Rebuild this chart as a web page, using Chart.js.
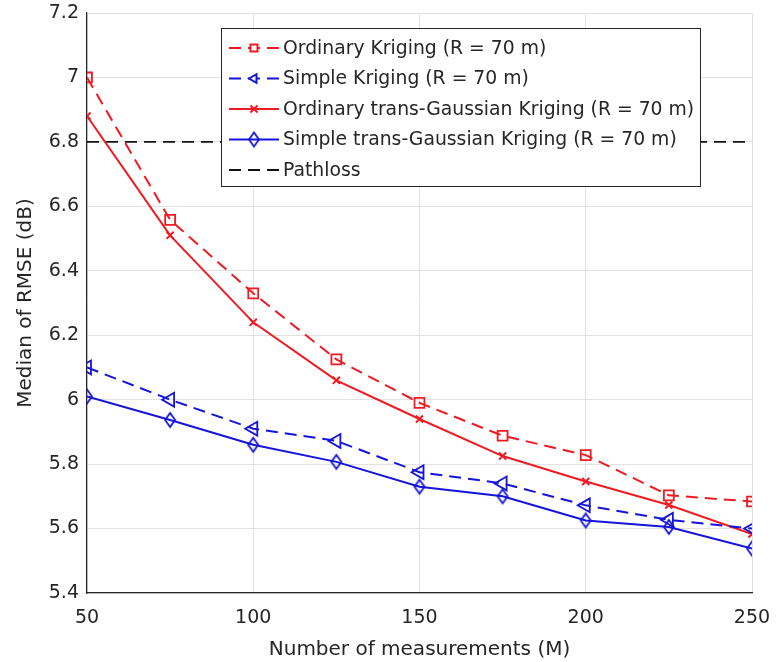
<!DOCTYPE html>
<html>
<head>
<meta charset="utf-8">
<script src="https://cdn.jsdelivr.net/npm/chart.js@4.4.1/dist/chart.umd.min.js"></script>
<style>
  html, body { margin: 0; padding: 0; background: #fff; }
  #wrap { width: 782px; height: 662px; }
</style>
</head>
<body>
<div id="wrap"><canvas id="myChart" width="782" height="662"></canvas></div>
<script>
const measurements = [50, 75, 100, 125, 150, 175, 200, 225, 250];
const ordinaryKriging = [7.00, 6.558, 6.33, 6.125, 5.99, 5.888, 5.828, 5.703, 5.684];
const simpleKriging = [6.10, 6.00, 5.91, 5.872, 5.775, 5.74, 5.672, 5.627, 5.60];
const ordinaryTG = [6.88, 6.51, 6.24, 6.06, 5.94, 5.825, 5.746, 5.673, 5.583];
const simpleTG = [6.01, 5.937, 5.86, 5.807, 5.73, 5.70, 5.625, 5.605, 5.538];
const pathloss = 6.8;
const xTicks = [50, 100, 150, 200, 250];

const RED = "#f01a22";
const BLUE = "#1414dc";
const TXT = "#262626";
const FONT = "'DejaVu Sans', sans-serif";

const toXY = (arr) => measurements.map((m, i) => ({ x: m, y: arr[i] }));

// matlab diamond is taller than wide
function makeDiamond(color) {
  const c = document.createElement("canvas");
  c.width = 14; c.height = 18;
  const g = c.getContext("2d");
  g.strokeStyle = color;
  g.lineWidth = 1.8;
  g.beginPath();
  g.moveTo(7, 2); g.lineTo(12, 9); g.lineTo(7, 16); g.lineTo(2, 9);
  g.closePath();
  g.stroke();
  return c;
}
const diamond = makeDiamond(BLUE);

const datasets = [
  {
    label: "Ordinary Kriging (R = 70 m)",
    data: toXY(ordinaryKriging),
    borderColor: RED, backgroundColor: "rgba(0,0,0,0)",
    borderWidth: 2, borderDash: [12, 7],
    pointStyle: "rect", pointRadius: 7, pointBorderWidth: 1.8,
    pointBorderColor: RED, pointBackgroundColor: "rgba(0,0,0,0)"
  },
  {
    label: "Simple Kriging (R = 70 m)",
    data: toXY(simpleKriging),
    borderColor: BLUE, backgroundColor: "rgba(0,0,0,0)",
    borderWidth: 2, borderDash: [12, 7],
    pointStyle: "triangle", pointRotation: -90, pointRadius: 8, pointBorderWidth: 1.8,
    pointBorderColor: BLUE, pointBackgroundColor: "rgba(0,0,0,0)"
  },
  {
    label: "Ordinary trans-Gaussian Kriging (R = 70 m)",
    data: toXY(ordinaryTG),
    borderColor: RED, backgroundColor: "rgba(0,0,0,0)",
    borderWidth: 2,
    pointStyle: "crossRot", pointRadius: 5, pointBorderWidth: 2,
    pointBorderColor: RED, pointBackgroundColor: "rgba(0,0,0,0)"
  },
  {
    label: "Simple trans-Gaussian Kriging (R = 70 m)",
    data: toXY(simpleTG),
    borderColor: BLUE, backgroundColor: "rgba(0,0,0,0)",
    borderWidth: 2,
    pointStyle: diamond, pointRadius: 7,
    pointBorderColor: BLUE, pointBackgroundColor: "rgba(0,0,0,0)"
  },
  {
    label: "Pathloss",
    data: [{ x: measurements[0], y: pathloss }, { x: measurements[measurements.length - 1], y: pathloss }],
    borderColor: "#111", backgroundColor: "rgba(0,0,0,0)",
    borderWidth: 1.8, borderDash: [12, 7],
    pointRadius: 0, pointStyle: false
  }
];

// matlab style legend: line sample with marker in the middle
const boxLegend = {
  id: "boxLegend",
  afterDatasetsDraw(chart) {
    const ctx = chart.ctx;
    const x0 = 221, y0 = 28, w = 479, h = 158;
    ctx.save();
    ctx.fillStyle = "#fff";
    ctx.fillRect(x0, y0, w, h);
    ctx.strokeStyle = TXT;
    ctx.lineWidth = 1;
    ctx.strokeRect(x0 + 0.5, y0 + 0.5, w, h);
    ctx.font = "18.8px " + FONT;
    ctx.textBaseline = "middle";
    chart.data.datasets.forEach((ds, i) => {
      const cy = y0 + 20 + i * 30.5;
      const lx0 = x0 + 8, lx1 = x0 + 58;
      ctx.strokeStyle = ds.borderColor;
      ctx.lineWidth = ds.borderWidth;
      ctx.setLineDash(ds.borderDash || []);
      ctx.beginPath();
      ctx.moveTo(lx0, cy);
      ctx.lineTo(lx1, cy);
      ctx.stroke();
      ctx.setLineDash([]);
      if (ds.pointStyle) {
        ctx.fillStyle = "#fff";
        Chart.helpers.drawPoint(ctx, {
          pointStyle: ds.pointStyle,
          radius: Math.min(ds.pointRadius, 5),
          rotation: ds.pointRotation || 0,
          borderWidth: ds.pointBorderWidth || 1.8
        }, (lx0 + lx1) / 2, cy);
      }
      ctx.fillStyle = TXT;
      ctx.fillText(ds.label, x0 + 62, cy + 1);
    });
    ctx.restore();
  }
};

const ctx = document.getElementById("myChart");

const myChart = new Chart(ctx, {
  type: "line",
  data: { datasets },
  plugins: [boxLegend],
  options: {
    responsive: false,
    animation: false,
    layout: { padding: { top: 13, right: 30, left: 12, bottom: 0 } },
    plugins: {
      legend: { display: false },
      tooltip: { enabled: false }
    },
    scales: {
      x: {
        type: "linear",
        min: 50, max: 250,
        afterBuildTicks: (scale) => { scale.ticks = xTicks.map(v => ({ value: v })); },
        afterFit: (scale) => {
          scale.height = 69;
          scale.paddingLeft = 0;
          scale.paddingRight = 0;
        },
        border: { display: true, color: TXT, width: 1.2 },
        grid: { color: "#e2e2e2", lineWidth: 1, tickLength: 0, drawTicks: false },
        ticks: {
          color: TXT, padding: 14,
          font: { family: FONT, size: 19 }
        },
        title: {
          display: true, text: "Number of measurements (M)", color: TXT,
          padding: { top: 6, bottom: 0 },
          font: { family: FONT, size: 20 }
        }
      },
      y: {
        min: 5.4, max: 7.2,
        ticks: {
          stepSize: 0.2, color: TXT, padding: 8,
          font: { family: FONT, size: 19 },
          callback: (v) => String(+v.toFixed(1))
        },
        afterFit: (scale) => {
          scale.width = 75;
          scale.paddingTop = 0;
          scale.paddingBottom = 0;
        },
        border: { display: true, color: TXT, width: 1.2 },
        grid: { color: "#e2e2e2", lineWidth: 1, tickLength: 0, drawTicks: false },
        title: {
          display: true, text: "Median of RMSE (dB)", color: TXT,
          padding: { top: 2, bottom: 2 },
          font: { family: FONT, size: 20 }
        }
      }
    }
  }
});
</script>
</body>
</html>
